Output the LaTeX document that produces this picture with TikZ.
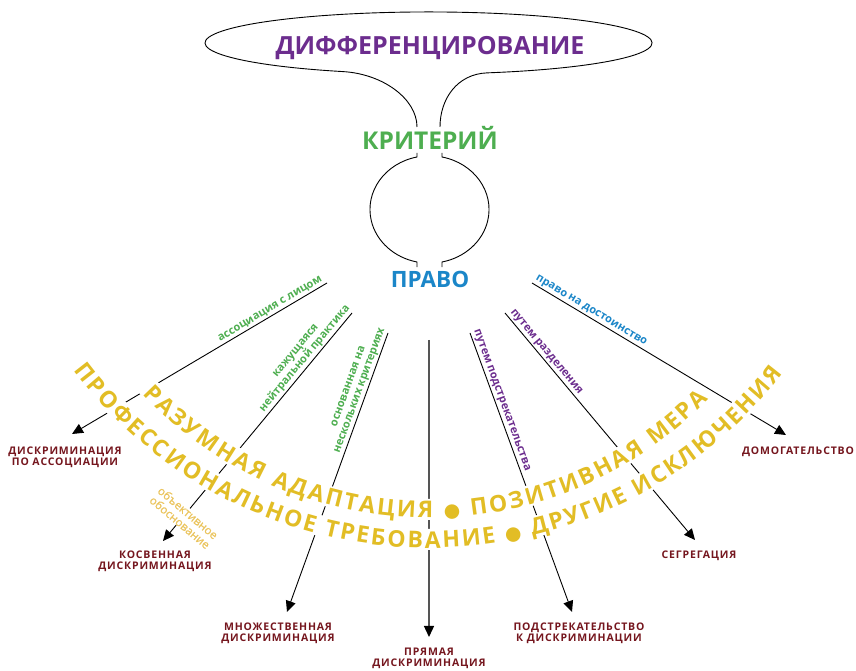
\documentclass[tikz,border=0pt]{standalone}
\usepackage{fontspec}
\setmainfont{Open Sans}
\newfontfamily\lblfamily{Open Sans}[LetterSpace=8]
\newfontfamily\notefamily{Open Sans}[FakeBold=0.6]
\newfontfamily\dotfamily{DejaVu Sans}
\usetikzlibrary{arrows.meta,decorations.text}
\definecolor{purpleT}{RGB}{108,45,142}
\definecolor{greenT}{RGB}{78,174,80}
\definecolor{blueT}{RGB}{27,134,200}
\definecolor{darkredT}{RGB}{117,22,30}
\definecolor{goldT}{RGB}{226,189,37}
\definecolor{lightgoldT}{RGB}{235,196,92}
\definecolor{grayline}{RGB}{85,85,85}
\newcommand{\arcfnt}{\fontsize{23}{23}\selectfont\bfseries}
\newcommand{\dotfnt}{\dotfamily\fontsize{19}{19}\selectfont}
\begin{document}
\begin{tikzpicture}[x=1pt,y=1pt,
  outline/.style={draw=black, line width=0.9pt},
  conn/.style={draw=black, line width=0.9pt, -{Triangle[length=11pt,width=10pt,color=black]}},
  target/.style={font=\lblfamily\bfseries\fontsize{10.5}{10.5}\selectfont, text=darkredT, align=center, anchor=north, inner sep=0pt},
  edgelbl/.style={font=\bfseries\fontsize{11}{12}\selectfont, sloped, above=1.5pt, align=center, inner sep=0pt},
  knock/.style={draw=white, line width=21pt},
  ]
\useasboundingbox (0,0) rectangle (856,671);

% speech bubble
\draw[outline] (417,544) .. controls (417,572) and (383,597.1) .. (343,599.4)
  arc[start angle=247.5, end angle=-74.8, x radius=223.5pt, y radius=31pt]
  .. controls (457.1,597.0) and (440,572) .. (440,544);
% loop between criterion and right
\draw[outline] (417,518) -- (417,514) arc[start angle=102.1, end angle=257.9, x radius=59.5pt, y radius=53.7pt] -- ++(0,-5);
\draw[outline] (442,518) -- (442,514) arc[start angle=77.9, end angle=-77.9, x radius=59.5pt, y radius=53.7pt] -- ++(0,-5);

% titles
\node[anchor=base, inner sep=0pt, font=\fontsize{25}{25}\selectfont\bfseries, text=purpleT] (diff) at (430,616) {ДИФФЕРЕНЦИРОВАНИЕ};
\node[anchor=base, inner sep=0pt, font=\fontsize{24.5}{24.5}\selectfont\bfseries, text=greenT] (krit) at (430,521) {КРИТЕРИЙ};
\node[anchor=base, inner sep=0pt, font=\fontsize{22.5}{22.5}\selectfont\bfseries, text=blueT] (pravo) at (430,383) {ПРАВО};

% start and tip coordinates
\coordinate (s1) at (327,388); \coordinate (e1) at (72,237);
\coordinate (s2) at (352,358); \coordinate (e2) at (163,130);
\coordinate (s3) at (388,338); \coordinate (e3) at (287,59);
\coordinate (s4) at (429,331); \coordinate (e4) at (429,34);
\coordinate (s5) at (470,338); \coordinate (e5) at (572,59);
\coordinate (s6) at (505,358); \coordinate (e6) at (695,131);
\coordinate (s7) at (532,388); \coordinate (e7) at (786,236);

% connectors
\draw[conn] (s1) -- node[edgelbl, pos=0.21, text=greenT] (l1) {ассоциация с лицом} (e1);
\draw[conn] (s2) -- node[edgelbl, pos=0.22, text=greenT] (l2) {кажущаяся\\нейтральной практика} (e2);
\draw[conn] (s3) -- node[edgelbl, pos=0.215, text=greenT] (l3) {основанная на\\нескольких критериях} (e3);
\draw[conn, draw=grayline, line width=1.4pt] (s4) -- (e4);
\draw[conn] (s5) -- node[edgelbl, pos=0.25, text=purpleT] (l5) {путем подстрекательства} (e5);
\draw[conn] (s6) -- node[edgelbl, pos=0.19, text=purpleT] (l6) {путем разделения} (e6);
\draw[conn] (s7) -- node[edgelbl, pos=0.22, text=blueT] (l7) {право на достоинство} (e7);

% knock-out bands behind the arc texts
\coordinate (ci) at (428,543);
\coordinate (co) at (429,568);
\draw[knock] ([shift={(222.5:381.5pt)}]ci) arc[start angle=222.5, end angle=316.5, radius=381.5pt];
\draw[knock] ([shift={(216.5:436.5pt)}]co) arc[start angle=216.5, end angle=323.1, radius=436.5pt];

% arc texts
\path[decorate, decoration={text along path, text={|\arcfnt|РАЗУМНАЯ АДАПТАЦИЯ |\dotfnt|●|\arcfnt| ПОЗИТИВНАЯ МЕРА}, text align=fit to path, text color=goldT}]
  ([shift={(223:390pt)}]ci) arc[start angle=223, end angle=316, radius=390pt];
\path[decorate, decoration={text along path, text={|\arcfnt|ПРОФЕССИОНАЛЬНОЕ ТРЕБОВАНИЕ |\dotfnt|●|\arcfnt| ДРУГИЕ ИСКЛЮЧЕНИЯ}, text align=fit to path, text color=goldT}]
  ([shift={(217:445pt)}]co) arc[start angle=217, end angle=322.6, radius=445pt];

% justification label
\node[rotate=-40, fill=white, inner sep=0pt, align=center, font=\notefamily\fontsize{11.5}{12.5}\selectfont, text=lightgoldT] (ob) at (184,153.5) {объективное\\обоснование};

% targets
\node[target] (t1) at (65,224) {ДИСКРИМИНАЦИЯ\\ПО АССОЦИАЦИИ};
\node[target] (t2) at (155,120) {КОСВЕННАЯ\\ДИСКРИМИНАЦИЯ};
\node[target] (t3) at (278,48) {МНОЖЕСТВЕННАЯ\\ДИСКРИМИНАЦИЯ};
\node[target] (t4) at (429,23) {ПРЯМАЯ\\ДИСКРИМИНАЦИЯ};
\node[target] (t5) at (579,48) {ПОДСТРЕКАТЕЛЬСТВО\\К ДИСКРИМИНАЦИИ};
\node[target] (t6) at (699,120) {СЕГРЕГАЦИЯ};
\node[target] (t7) at (798,224) {ДОМОГАТЕЛЬСТВО};
\end{tikzpicture}
\end{document}
